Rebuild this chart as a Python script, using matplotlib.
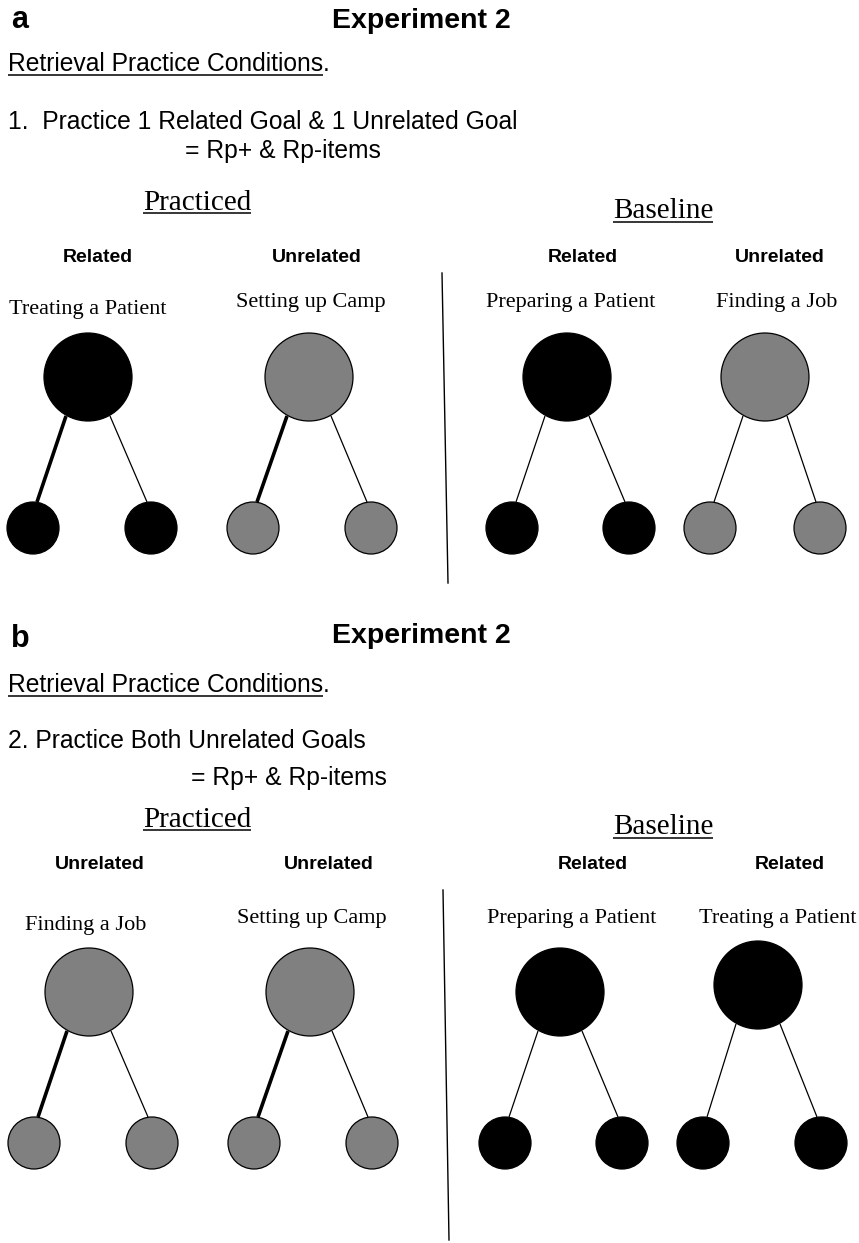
import matplotlib
matplotlib.use("Agg")
import matplotlib.pyplot as plt
from matplotlib.patches import Circle

W, H = 859, 1243
BLACK = "black"
GRAY = "#808080"

# panel headers
panel_letters = ["a", "b"]
panel_letter_y = [28, 647]
exp_title = "Experiment 2"
exp_title_y = [28, 643]
cond_y = [71, 692]
practice_lines = ["1.  Practice 1 Related Goal & 1 Unrelated Goal",
                  "2. Practice Both Unrelated Goals"]
practice_y = [129, 748]
items_text = "= Rp+ & Rp-items"
items_x = [185, 191]
items_y = [158, 785]
practiced_y = [210, 827]
baseline_y = [218, 834]

# per panel tree info (4 trees each)
cat_a = ["Related", "Unrelated", "Related", "Unrelated"]
cat_b = ["Unrelated", "Unrelated", "Related", "Related"]
cat_x_a = [98, 317, 583, 780]
cat_x_b = [100, 329, 593, 790]
cat_y = [262, 869]

goal_a = ["Treating a Patient", "Setting up Camp", "Preparing a Patient", "Finding a Job"]
goal_b = ["Finding a Job", "Setting up Camp", "Preparing a Patient", "Treating a Patient"]
goal_x_a = [88, 311, 571, 777]
goal_x_b = [86, 312, 572, 778]
goal_y_a = [314, 307, 307, 307]
goal_y_b = [930, 923, 923, 923]

big_x_a = [88, 309, 567, 765]
big_x_b = [89, 310, 560, 758]
big_y_a = [377, 377, 377, 377]
big_y_b = [992, 992, 992, 985]
small_l_a = [33, 253, 512, 710]
small_r_a = [151, 371, 629, 820]
small_l_b = [34, 254, 505, 703]
small_r_b = [152, 372, 622, 821]
small_y = [528, 1143]

colors_a = [BLACK, GRAY, BLACK, GRAY]
colors_b = [GRAY, GRAY, BLACK, BLACK]
thick_a = [True, True, False, False]
thick_b = [True, True, False, False]

divider_a = [(442, 273), (448, 583)]
divider_b = [(443, 890), (449, 1240)]

R_BIG, R_SMALL = 44, 26
BODY = 17.7

fig = plt.figure(figsize=(W / 100, H / 100), dpi=100)
ax = fig.add_axes([0, 0, 1, 1])
ax.set_xlim(0, W)
ax.set_ylim(H, 0)
ax.axis("off")

SANS = "Liberation Sans"
SERIF = "Liberation Serif"

texts_to_underline = []


def underline(t, y, lw=1.1):
    texts_to_underline.append((t, y, lw))


def draw_tree(bx, by, sl, sr, sy, color, thick):
    lw_left = 2.6 if thick else 0.9
    ax.plot([bx - 22, sl + 4], [by + 39, sy - 26], color="black", lw=lw_left, zorder=1,
            solid_capstyle="butt")
    ax.plot([bx + 22, sr - 4], [by + 39, sy - 26], color="black", lw=0.9, zorder=1,
            solid_capstyle="butt")
    for (cx, cy, r) in [(bx, by, R_BIG), (sl, sy, R_SMALL), (sr, sy, R_SMALL)]:
        ax.add_patch(Circle((cx, cy), r, facecolor=color, edgecolor="black", lw=0.9, zorder=2))


panels = [
    (cat_a, cat_x_a, goal_a, goal_x_a, goal_y_a, big_x_a, big_y_a, small_l_a, small_r_a,
     colors_a, thick_a, divider_a),
    (cat_b, cat_x_b, goal_b, goal_x_b, goal_y_b, big_x_b, big_y_b, small_l_b, small_r_b,
     colors_b, thick_b, divider_b),
]

for p, (cats, catx, goals, gx, gy, bxs, bys, sls, srs, cols, thk, div) in enumerate(panels):
    ax.text(11, panel_letter_y[p], panel_letters[p], family=SANS, weight="bold",
            fontsize=22, va="baseline", ha="left")
    ax.text(421, exp_title_y[p], exp_title, family=SANS, weight="bold",
            fontsize=20.5, va="baseline", ha="center")
    t = ax.text(8, cond_y[p], "Retrieval Practice Conditions", family=SANS,
                fontsize=BODY, va="baseline", ha="left")
    underline(t, cond_y[p] + 4, 1.1)
    texts_to_underline.append(("period", t, cond_y[p]))
    ax.text(8, practice_y[p], practice_lines[p], family=SANS, fontsize=BODY,
            va="baseline", ha="left")
    ax.text(items_x[p], items_y[p], items_text, family=SANS, fontsize=BODY,
            va="baseline", ha="left")
    t = ax.text(197, practiced_y[p], "Practiced", family=SERIF, fontsize=21,
                va="baseline", ha="center")
    underline(t, practiced_y[p] + 3, 1.1)
    t = ax.text(663, baseline_y[p], "Baseline", family=SERIF, fontsize=21,
                va="baseline", ha="center")
    underline(t, baseline_y[p] + 4, 1.1)

    for i in range(4):
        ax.text(catx[i], cat_y[p], cats[i], family=SANS, weight="bold", fontsize=14,
                va="baseline", ha="center")
        ax.text(gx[i], gy[i], goals[i], family=SERIF, fontsize=16,
                va="baseline", ha="center")
        draw_tree(bxs[i], bys[i], sls[i], srs[i], small_y[p], cols[i], thk[i])

    ax.plot([div[0][0], div[1][0]], [div[0][1], div[1][1]], color="black", lw=1.0)

fig.canvas.draw()
renderer = fig.canvas.get_renderer()
inv = ax.transData.inverted()
for item in texts_to_underline:
    if item[0] == "period":
        _, t, y = item
        bb = t.get_window_extent(renderer)
        x1 = inv.transform((bb.x1, bb.y0))[0]
        ax.text(x1, y, ".", family=SANS, fontsize=BODY, va="baseline", ha="left")
        continue
    t, y, lw = item
    bb = t.get_window_extent(renderer)
    x0 = inv.transform((bb.x0, bb.y0))[0]
    x1 = inv.transform((bb.x1, bb.y0))[0]
    ax.plot([x0, x1], [y, y], color="black", lw=lw, solid_capstyle="butt")

fig.savefig("out.png", dpi=100)
